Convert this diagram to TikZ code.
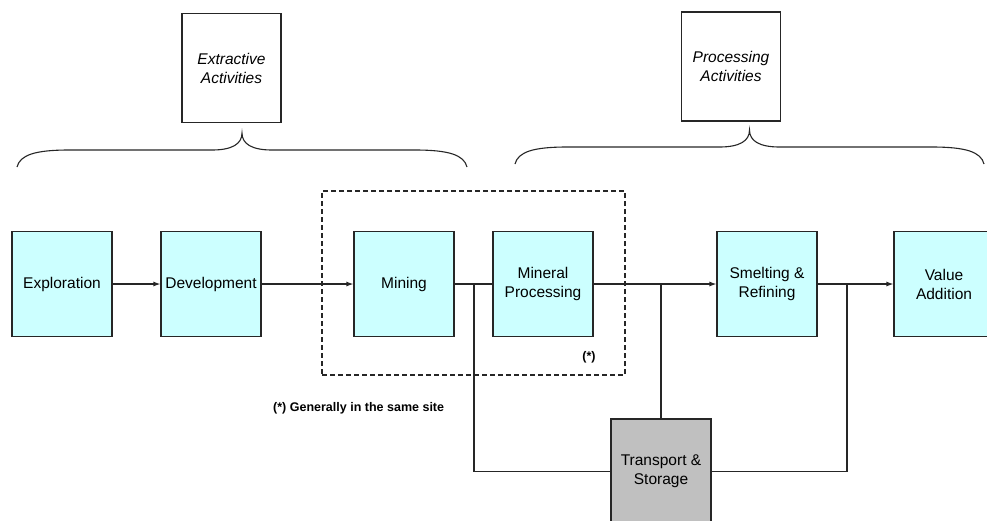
\documentclass[tikz,border=0pt]{standalone}
\usepackage{fontspec}
\setmainfont{Liberation Sans}
\usetikzlibrary{arrows.meta,calc}

\definecolor{stagefill}{HTML}{CCFFFF}
\definecolor{storefill}{HTML}{C0C0C0}
\definecolor{edge}{HTML}{262626}

\tikzset{
  stage/.style={draw=edge, line width=1.1pt, fill=stagefill,
    minimum width=100pt, minimum height=105pt, inner sep=0pt,
    align=center, font=\fontsize{15.5}{19}\selectfont},
  store/.style={stage, fill=storefill},
  groupbox/.style={draw=edge, line width=1.1pt, fill=white,
    minimum width=99pt, minimum height=109pt, inner sep=0pt,
    align=center, font=\fontsize{15.5}{19}\selectfont\itshape},
  link/.style={draw=edge, line width=1.2pt},
  arr/.style={link, -{Latex[length=7pt,width=5pt]}},
  sitebox/.style={draw=edge, line width=1.1pt, dash pattern=on 5pt off 3pt,
    minimum width=303pt, minimum height=184pt, inner sep=0pt},
  bracestyle/.style={draw=edge, line width=1.1pt},
  note/.style={font=\fontsize{12.5}{15}\selectfont\bfseries, inner sep=0pt}
}

% horizontal curly brace: #1 left x, #2 right x, #3 y of the flat part
\newcommand\hbrace[3]{%
  \pgfmathsetmacro\bm{(#1+#2)/2}%
  \draw[bracestyle] (#1,#3+17) .. controls (#1+3,#3+5) and (#1+18,#3) .. (#1+52,#3)
    -- (\bm-30,#3) .. controls (\bm-10,#3) and (\bm,#3-6) .. (\bm,#3-17)
    .. controls (\bm,#3-6) and (\bm+10,#3) .. (\bm+30,#3)
    -- (#2-52,#3) .. controls (#2-18,#3) and (#2-3,#3+5) .. (#2,#3+17);}

\begin{document}
\begin{tikzpicture}[x=1pt, y=-1pt]
  \useasboundingbox (0,0) rectangle (987,520);
  \clip (0,0) rectangle (987,520);

  % group labels and their braces
  \node[groupbox] (extr) at (231.5,68) {Extractive\\Activities};
  \node[groupbox] (proc) at (731,66.5) {Processing\\Activities};
  \hbrace{17}{467}{150}
  \hbrace{515}{984}{147}

  % mine and plant normally share one site
  \node[sitebox] (site) at (473.5,283) {};
  \node[note] (star) at (589,357) {(*)};
  \node[note, anchor=west] (sitenote) at (273,408) {(*) Generally in the same site};

  % value chain
  \node[stage] (expl)  at (62,284)  {Exploration};
  \node[stage] (dev)   at (211,284) {Development};
  \node[stage] (mine)  at (404,284) {Mining};
  \node[stage] (mp)    at (543,284) {Mineral\\Processing};
  \node[stage] (smelt) at (767,284) {Smelting \&\\Refining};
  \node[stage] (val)   at (944,284) {Value\\Addition};
  \node[store] (trans) at (661,471.5) {Transport \&\\Storage};

  % junctions feeding transport and storage
  \coordinate (j1) at (474,284);
  \coordinate (j2) at (trans.north |- mp.east);
  \coordinate (j3) at (847,284);

  \draw[arr]  (expl) -- (dev);
  \draw[arr]  (dev) -- (mine);
  \draw[link] (mine) -- (mp);
  \draw[arr]  (mp) -- (smelt);
  \draw[arr]  (smelt) -- (val);
  \draw[link] (j1) |- (trans.west);
  \draw[link] (j2) -- (trans.north);
  \draw[link] (j3) |- (trans.east);
\end{tikzpicture}
\end{document}
